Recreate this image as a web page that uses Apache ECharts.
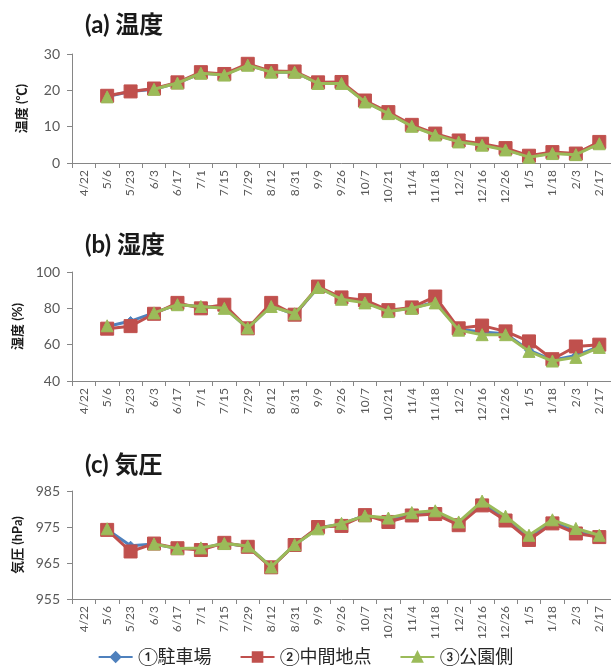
<!DOCTYPE html>
<html>
<head>
<meta charset="utf-8">
<script src="https://cdn.jsdelivr.net/npm/echarts@6/dist/echarts.min.js"></script>
<style>
  html, body { margin: 0; padding: 0; background: #fff; }
  #chart { width: 611px; height: 667px; }
</style>
</head>
<body>
<div id="chart"></div>
<script>
var dates = ['4/22','5/6','5/23','6/3','6/17','7/1','7/15','7/29','8/12','8/31','9/9','9/26',
  '10/7','10/21','11/4','11/18','12/2','12/16','12/26','1/5','1/18','2/3','2/17'];

var seriesNames = ['①駐車場', '②中間地点', '③公園側'];

// (a) temperature
var tempP1 = [null,18.3,19.7,20.3,22,24.7,24.3,27,25,25,22,22,16.9,13.7,10.2,7.8,5.9,5.0,3.8,1.8,2.7,2.5,5.5];
var tempP2 = [null,18.5,19.7,20.5,22.2,25,24.5,27.3,25.3,25.2,22.2,22.3,17.2,14,10.5,8.1,6.2,5.3,4.1,2.0,3.0,2.6,5.8];
var tempP3 = [null,18.2,null,20.3,22,24.7,24.2,26.9,25,25,21.9,21.9,16.8,13.6,10.1,7.7,5.8,4.9,3.6,1.6,2.6,2.3,5.3];

// (b) humidity
var humP1 = [null,70,73,77.5,82,81,80.5,69,81.5,76.5,91.5,85.5,83.5,78.5,80,83.5,68.5,67,66,57,51.5,54,59];
var humP2 = [null,68.8,70.2,77,83,80,82,69,83,76.5,92,86,84.5,79,80.5,86.5,69,70.5,67.3,61.8,52,59,60];
var humP3 = [null,70.4,null,77.5,82,81,80,69.2,81,77,91.5,85,83,78.2,80,83,68,65.5,65.5,56.3,51,53,58.5];

// (c) pressure
var presP1 = [null,974.3,969.8,970.3,969,969,970.5,969.6,963.9,970,974.8,975.8,978.2,977,978.6,979,976,981.5,977.3,972,976.4,973.8,972.5];
var presP2 = [null,974.2,968.2,970.4,969.1,968.6,970.6,969.5,963.8,970,975,975.3,978.3,976.4,978.2,978.6,975.5,981,976.8,971.4,976,973.2,972.2];
var presP3 = [null,974.5,null,970.3,969,969.2,970.4,969.7,963.9,970.1,974.5,976,978.1,977.5,979,979.5,976.4,982.2,978,972.7,977,974.6,972.7];

var cjk = 'Lato, "Noto Sans CJK JP", sans-serif';
var colors = ['#4F81BD', '#C0504D', '#9BBB59'];
var symbols = ['diamond', 'rect', 'triangle'];
var symSizes = [9, 13, 12];

var panels = [
  { title: '(a) 温度', name: '温度 (℃)', min: 0, max: 30, interval: 10, top: 54, height: 109, titleTop: 8, data: [tempP1, tempP2, tempP3] },
  { title: '(b) 湿度', name: '湿度 (%)', min: 40, max: 100, interval: 20, top: 272, height: 109, titleTop: 228, data: [humP1, humP2, humP3] },
  { title: '(c) 気圧', name: '気圧 (hPa)', min: 955, max: 985, interval: 10, top: 491, height: 108, titleTop: 448, data: [presP1, presP2, presP3] }
];

var titles = [], grids = [], xAxes = [], yAxes = [], series = [];

panels.forEach(function(p, i) {
  titles.push({
    text: p.title, left: 80, top: p.titleTop,
    textStyle: { fontFamily: cjk, fontSize: 24, fontWeight: 'bold', color: '#1a1a1a' }
  });
  grids.push({ left: 72, width: 541, top: p.top, height: p.height });
  xAxes.push({
    type: 'category', gridIndex: i, data: dates, boundaryGap: true,
    axisLine: { lineStyle: { color: '#868686', width: 1 } },
    axisTick: { show: true, length: 5, lineStyle: { color: '#868686' } },
    axisLabel: { rotate: 90, fontSize: 12, color: '#595959', margin: 7, interval: 0, fontFamily: cjk },
    splitLine: { show: false }
  });
  yAxes.push({
    type: 'value', gridIndex: i, min: p.min, max: p.max, interval: p.interval,
    name: p.name, nameLocation: 'middle', nameGap: 44, nameRotate: 90,
    nameTextStyle: { fontFamily: cjk, fontSize: 13, fontWeight: 'bold', color: '#1a1a1a' },
    axisLine: { show: true, lineStyle: { color: '#868686', width: 1 } },
    axisTick: { show: true, length: 5, lineStyle: { color: '#868686' } },
    axisLabel: { fontSize: 14, color: '#595959', margin: 12, fontFamily: cjk },
    splitLine: { show: false }
  });
  p.data.forEach(function(vals, k) {
    series.push({
      name: seriesNames[k], type: 'line', xAxisIndex: i, yAxisIndex: i,
      data: vals, connectNulls: false,
      symbol: symbols[k], symbolSize: symSizes[k], showAllSymbol: true,
      lineStyle: { color: colors[k], width: 3 },
      itemStyle: { color: colors[k], borderColor: colors[k], borderWidth: 1 },
      z: 2 + k, animation: false
    });
  });
});

var chart = echarts.init(document.getElementById('chart'));
chart.setOption({
  backgroundColor: '#fff',
  animation: false,
  title: titles,
  grid: grids,
  xAxis: xAxes,
  yAxis: yAxes,
  legend: {
    data: seriesNames, top: 643, left: 'center',
    itemWidth: 34, itemHeight: 12, itemGap: 28,
    textStyle: { fontFamily: cjk, fontSize: 18, color: '#262626' }
  },
  series: series
});
</script>
</body>
</html>
